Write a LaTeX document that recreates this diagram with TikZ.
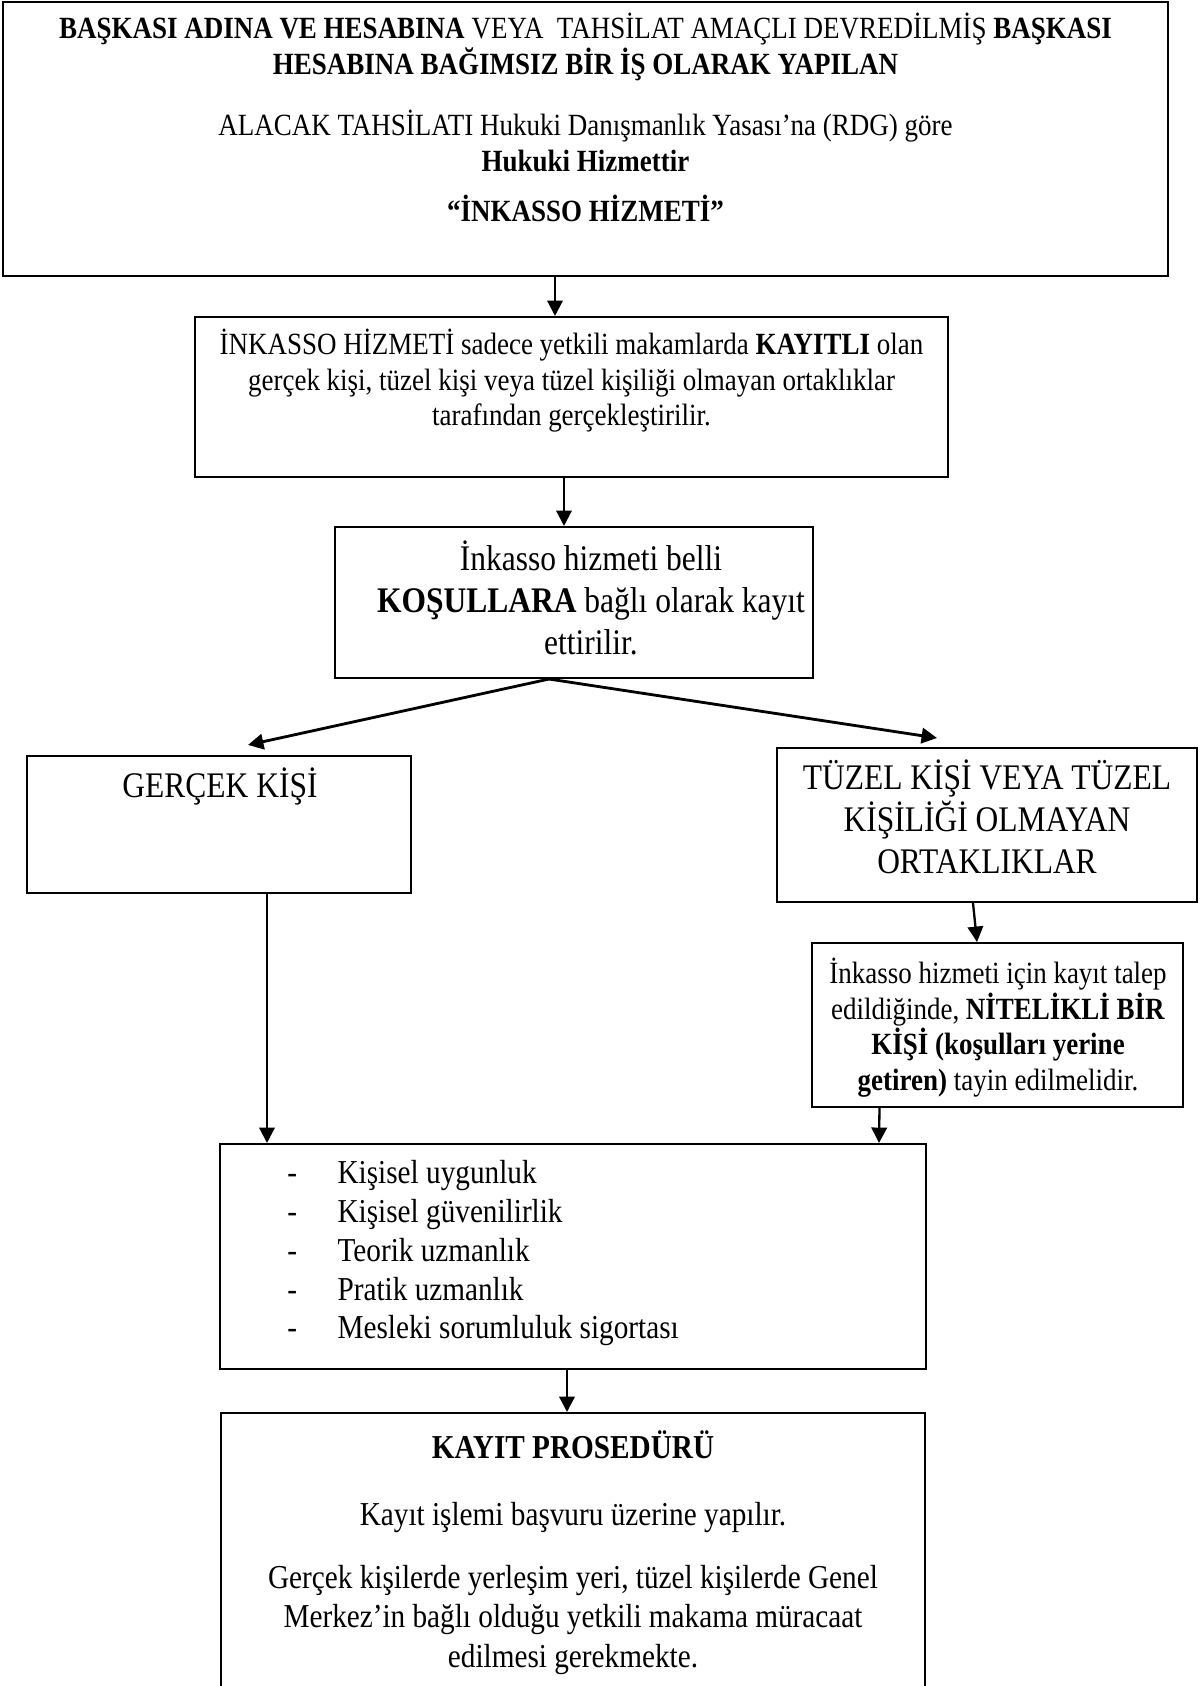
\documentclass[tikz,border=0pt]{standalone}
\usepackage{fontspec}
\setmainfont{Liberation Serif}[FakeStretch=0.875]
\usetikzlibrary{arrows.meta,calc,fit}
\setlength{\lineskiplimit}{-100pt}
\newcommand{\itemdash}{\makebox[19.5pt][l]{-}}

\begin{document}
\begin{tikzpicture}[
  x=0.389pt, y=-0.389pt,
  panel/.style={draw, line width=0.8pt, inner sep=0pt},
  boxtext/.style={inner sep=0pt, align=center},
  twelve/.style={font=\fontsize{12}{13.8}\selectfont},
  fourteen/.style={font=\fontsize{14}{16.4}\selectfont},
  arrow/.style={-{Triangle[length=6pt, width=6pt]}, line width=0.9pt},
  fork/.style={arrow, line width=1.1pt}]
\useasboundingbox (0,0) rectangle (1203,1686);
% frames
\node[panel, fit={(3,2) (1168,276)}] (head) {};
\node[panel, fit={(195,317) (948,477)}] (register) {};
\node[panel, fit={(335,527) (813,678)}] (terms) {};
\node[panel, fit={(27,756) (411,893)}] (natural) {};
\node[panel, fit={(777,748) (1197,902)}] (legal) {};
\node[panel, fit={(812,943) (1183,1107)}] (qualified) {};
\node[panel, fit={(220,1144) (926,1369)}] (criteria) {};
\node[panel, fit={(221,1413) (925,1710)}] (procedure) {};
% texts
\node[boxtext, twelve, anchor=north] (headtext) at ($(head.north)+(0,12)$)
  {\strut\textbf{BAŞKASI ADINA VE HESABINA} VEYA\ \ TAHSİLAT AMAÇLI DEVREDİLMİŞ \textbf{BAŞKASI}\\
  \textbf{HESABINA BAĞIMSIZ BİR İŞ OLARAK YAPILAN}\\[10.1pt]
  ALACAK TAHSİLATI Hukuki Danışmanlık Yasası’na (RDG) göre\\
  \textbf{Hukuki Hizmettir}\\[5.6pt]
  \textbf{“İNKASSO HİZMETİ”}};
\node[boxtext, twelve, anchor=north] (registertext) at ($(register.north)+(0,13)$)
  {\strut İNKASSO HİZMETİ sadece yetkili makamlarda \textbf{KAYITLI} olan\\
  gerçek kişi, tüzel kişi veya tüzel kişiliği olmayan ortaklıklar\\
  tarafından gerçekleştirilir.};
\node[boxtext, fourteen, anchor=north] (termstext) at ($(terms.north)+(17,14)$)
  {\strut İnkasso hizmeti belli\\
  \textbf{KOŞULLARA} bağlı olarak kayıt\\
  ettirilir.};
\node[boxtext, fourteen, anchor=north] (naturaltext) at ($(natural.north)+(1,12)$)
  {\strut GERÇEK KİŞİ};
\node[boxtext, fourteen, anchor=north] (legaltext) at ($(legal.north)+(0,12)$)
  {\strut TÜZEL KİŞİ VEYA TÜZEL\\
  KİŞİLİĞİ OLMAYAN\\
  ORTAKLIKLAR};
\node[boxtext, twelve, anchor=north] (qualifiedtext)
  at ($(qualified.north)+(0.5,16)$)
  {\strut İnkasso hizmeti için kayıt talep\\
  edildiğinde, \textbf{NİTELİKLİ BİR}\\
  \textbf{KİŞİ (koşulları yerine}\\
  \textbf{getiren)} tayin edilmelidir.};
\node[boxtext, align=left, anchor=north west, font=\fontsize{13}{15.1}\selectfont] (criteriatext)
  at ($(criteria.north west)+(68,13)$)
  {\strut\itemdash Kişisel uygunluk\\
  \itemdash Kişisel güvenilirlik\\
  \itemdash Teorik uzmanlık\\
  \itemdash Pratik uzmanlık\\
  \itemdash Mesleki sorumluluk sigortası};
\node[boxtext, anchor=north, font=\fontsize{13}{15.4}\selectfont] (proceduretext)
  at ($(procedure.north)+(0,18)$)
  {\strut\textbf{KAYIT PROSEDÜRÜ}\\[10.7pt]
  Kayıt işlemi başvuru üzerine yapılır.\\[9.1pt]
  Gerçek kişilerde yerleşim yeri, tüzel kişilerde Genel\\
  Merkez’in bağlı olduğu yetkili makama müracaat\\
  edilmesi gerekmekte.};
% connectors
\draw[arrow] ($(head.south)+(-30.5,0)$) -- ($(register.north)+(-16.5,0)$);
\draw[arrow] ($(register.south)+(-7.5,0)$) -- ($(terms.north)+(-10,0)$);
\draw[fork] ($(terms.south)+(-25,0)$) -- ($(natural.north)+(29,-10)$);
\draw[fork] ($(terms.south)+(-25,0)$) -- ($(legal.north)+(-50,-9)$);
\draw[arrow] ($(legal.south)+(-14,0)$) -- ($(qualified.north)+(-20.5,0)$);
\draw[arrow] ($(natural.south)+(48,0)$) -- ($(criteria.north)+(-306,0)$);
\draw[arrow] ($(qualified.south)+(-118,0)$) -- ($(criteria.north)+(306,0)$);
\draw[arrow] ($(criteria.south)+(-6,0)$) -- ($(procedure.north)+(-6,0)$);
\end{tikzpicture}
\end{document}
